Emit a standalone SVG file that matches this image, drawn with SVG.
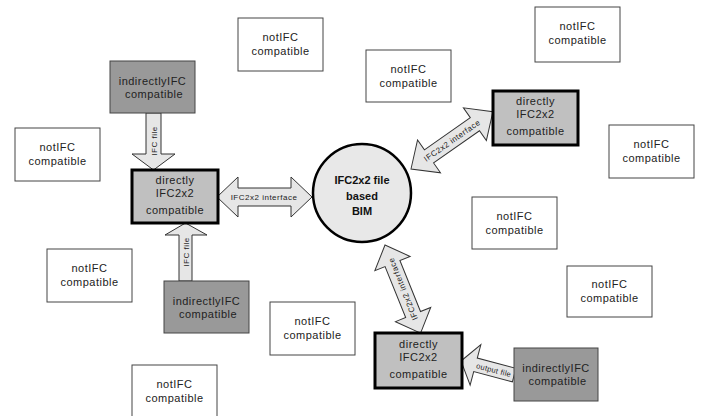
<svg xmlns="http://www.w3.org/2000/svg" width="701" height="416" viewBox="0 0 701 416">
<style>
text{font-family:"Liberation Sans",Arial,sans-serif;fill:#222;text-anchor:middle}
.t{font-size:11px;letter-spacing:0.5px}
.b{font-size:11px;font-weight:bold;fill:#111}
.s{font-size:8px;letter-spacing:0.5px}
.not{fill:#fff;stroke:#444;stroke-width:1}
.ind{fill:#999;stroke:#444;stroke-width:1}
.dir{fill:#c0c0c0;stroke:#000;stroke-width:3}
.arr{fill:#e6e6e6;stroke:#333;stroke-width:1;stroke-linejoin:miter}
</style>
<rect width="701" height="416" fill="#fff"/>
<g id="connectors">
<path class="arr" d="M146,113 L161,113 L161,154 L175,154 L153.5,170 L132,154 L146,154 Z"/>
<text class="s" transform="translate(156.5,141) rotate(-90)">IFC file</text>
<path class="arr" d="M179,281 L192,281 L192,235 L207,235 L185.5,223 L165,235 L179,235 Z"/>
<text class="s" transform="translate(188.5,252) rotate(-90)">IFC file</text>
<g transform="translate(217,197)">
<path class="arr" d="M0,0 L21,-20 L21,-9 L74,-9 L74,-20 L95,0 L74,20 L74,9 L21,9 L21,20 Z"/>
<text class="s" x="47" y="3">IFC2x2 interface</text>
</g>
<g transform="translate(411,169) rotate(-35)">
<path class="arr" d="M0,0 L22,-20 L22,-8 L78,-8 L78,-20 L100,0 L78,20 L78,8 L22,8 L22,20 Z"/>
<text class="s" x="50" y="3">IFC2x2  interface</text>
</g>
<g transform="translate(385,245) rotate(68)">
<path class="arr" d="M0,0 L20,-19 L20,-8 L75,-8 L75,-19 L95,0 L75,19 L75,8 L20,8 L20,19 Z"/>
<text class="s" transform="translate(47.5,0) rotate(180)" y="3">IFC2x2  interface</text>
</g>
<g transform="translate(461,361) rotate(14.8)">
<path class="arr" d="M0,0 L15,-21 L15,-7 L55,-7 L55,7 L15,7 L15,21 Z"/>
<text class="s" x="34" y="3" style="font-size:7.5px;letter-spacing:0.3px">output file</text>
</g>
</g>
<g id="bim">
<circle cx="362" cy="193" r="49" fill="#e8e8e8" stroke="#000" stroke-width="2.5"/>
<text class="b" x="362" y="184">IFC2x2 file</text>
<text class="b" x="362" y="200">based</text>
<text class="b" x="362" y="215">BIM</text>
</g>
<g id="direct1"><rect class="dir" x="132" y="170" width="86" height="53"/>
<text class="t" x="175" y="184">directly</text><text class="t" x="175" y="197">IFC2x2</text><text class="t" x="175" y="214">compatible</text></g>
<g id="direct2"><rect class="dir" x="493" y="91" width="85" height="54"/>
<text class="t" x="535.5" y="105">directly</text><text class="t" x="535.5" y="118">IFC2x2</text><text class="t" x="535.5" y="135">compatible</text></g>
<g id="direct3"><rect class="dir" x="375" y="333" width="87" height="55"/>
<text class="t" x="418.5" y="348">directly</text><text class="t" x="418.5" y="361">IFC2x2</text><text class="t" x="418.5" y="378">compatible</text></g>
<g id="indirect1"><rect class="ind" x="110" y="61" width="85" height="52"/>
<text class="t" x="152.5" y="85">indirectlyIFC</text><text class="t" x="154" y="98">compatible</text></g>
<g id="indirect2"><rect class="ind" x="164" y="281" width="85" height="52"/>
<text class="t" x="206.5" y="305">indirectlyIFC</text><text class="t" x="208" y="318">compatible</text></g>
<g id="indirect3"><rect class="ind" x="514" y="348" width="84" height="53"/>
<text class="t" x="556" y="372">indirectlyIFC</text><text class="t" x="557.5" y="385">compatible</text></g>
<g id="not1"><rect class="not" x="238" y="18" width="85" height="53"/>
<text class="t" x="280.5" y="41">notIFC</text><text class="t" x="280.5" y="55">compatible</text></g>
<g id="not2"><rect class="not" x="366" y="50" width="85" height="52"/>
<text class="t" x="408.5" y="73">notIFC</text><text class="t" x="408.5" y="87">compatible</text></g>
<g id="not3"><rect class="not" x="535" y="7" width="85" height="55"/>
<text class="t" x="577.5" y="30">notIFC</text><text class="t" x="577.5" y="44">compatible</text></g>
<g id="not4"><rect class="not" x="15" y="128" width="85" height="53"/>
<text class="t" x="57.5" y="151">notIFC</text><text class="t" x="57.5" y="165">compatible</text></g>
<g id="not5"><rect class="not" x="609" y="125" width="85" height="53"/>
<text class="t" x="651.5" y="148">notIFC</text><text class="t" x="651.5" y="162">compatible</text></g>
<g id="not6"><rect class="not" x="472" y="197" width="85" height="52"/>
<text class="t" x="514.5" y="220">notIFC</text><text class="t" x="514.5" y="234">compatible</text></g>
<g id="not7"><rect class="not" x="567" y="266" width="85" height="51"/>
<text class="t" x="609.5" y="288">notIFC</text><text class="t" x="609.5" y="302">compatible</text></g>
<g id="not8"><rect class="not" x="47" y="249" width="85" height="53"/>
<text class="t" x="89.5" y="272">notIFC</text><text class="t" x="89.5" y="286">compatible</text></g>
<g id="not9"><rect class="not" x="270" y="302" width="85" height="53"/>
<text class="t" x="312.5" y="325">notIFC</text><text class="t" x="312.5" y="339">compatible</text></g>
<g id="not10"><rect class="not" x="132" y="365" width="85" height="52"/>
<text class="t" x="174.5" y="388">notIFC</text><text class="t" x="174.5" y="402">compatible</text></g>
</svg>
